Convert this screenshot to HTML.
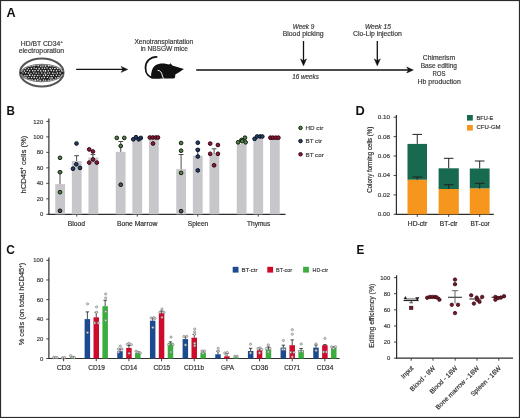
<!DOCTYPE html>
<html><head><meta charset="utf-8"><style>html,body{margin:0;padding:0;background:#fff;}body{width:520px;height:418px;overflow:hidden;font-family:"Liberation Sans", sans-serif;}</style></head><body>
<svg width="520" height="418" viewBox="0 0 520 418" style="display:block;will-change:transform;font-family:'Liberation Sans', sans-serif">
<rect x="0" y="0" width="520" height="418" fill="#fff"/>
<text x="6.4" y="16.5" font-size="12" text-anchor="start" fill="#111" font-weight="bold" textLength="9.2" lengthAdjust="spacingAndGlyphs" >A</text>
<text x="6.5" y="114.7" font-size="12" text-anchor="start" fill="#111" font-weight="bold" textLength="8.4" lengthAdjust="spacingAndGlyphs" >B</text>
<text x="6.3" y="253.6" font-size="12" text-anchor="start" fill="#111" font-weight="bold" textLength="8.6" lengthAdjust="spacingAndGlyphs" >C</text>
<text x="355.5" y="114.7" font-size="12" text-anchor="start" fill="#111" font-weight="bold" textLength="9.3" lengthAdjust="spacingAndGlyphs" >D</text>
<text x="356.4" y="253.8" font-size="12" text-anchor="start" fill="#111" font-weight="bold" textLength="7.8" lengthAdjust="spacingAndGlyphs" >E</text>
<text x="40.55" y="45.8" font-size="6.4" text-anchor="middle" fill="#3a3a3a" stroke="#3a3a3a" stroke-width="0.18" textLength="39.4" lengthAdjust="spacingAndGlyphs" >HD/BT CD34</text>
<text x="60.6" y="42.9" font-size="4" text-anchor="start" fill="#3a3a3a" stroke="#3a3a3a" stroke-width="0.18" >+</text>
<text x="41.45" y="53.2" font-size="6.4" text-anchor="middle" fill="#3a3a3a" stroke="#3a3a3a" stroke-width="0.18" textLength="45.4" lengthAdjust="spacingAndGlyphs" >electroporation</text>
<defs><clipPath id="dishclip"><path d="M20.6,73 C24.0,61.6 60.0,61.6 63.2,73 C60.0,84.4 24.0,84.4 20.6,73 Z"/></clipPath></defs>
<ellipse cx="41.8" cy="72.5" rx="21.7" ry="14.0" fill="none" stroke="#555" stroke-width="2.1"/>
<path d="M20.6,73 C24.0,61.6 60.0,61.6 63.2,73 C60.0,84.4 24.0,84.4 20.6,73 Z" fill="#222" stroke="#7a7a7a" stroke-width="1.5"/>
<g clip-path="url(#dishclip)" fill="#ececec"><circle cx="20.70" cy="63.77" r="0.80"/><circle cx="23.60" cy="63.77" r="0.83"/><circle cx="25.52" cy="63.58" r="0.84"/><circle cx="28.67" cy="63.88" r="0.65"/><circle cx="31.18" cy="63.42" r="0.75"/><circle cx="33.91" cy="63.26" r="0.67"/><circle cx="36.32" cy="63.89" r="0.80"/><circle cx="38.88" cy="63.81" r="0.65"/><circle cx="41.89" cy="63.34" r="0.62"/><circle cx="44.75" cy="63.40" r="0.67"/><circle cx="47.49" cy="63.86" r="0.69"/><circle cx="50.12" cy="63.63" r="0.78"/><circle cx="52.16" cy="63.91" r="0.78"/><circle cx="55.42" cy="63.88" r="0.69"/><circle cx="57.59" cy="63.37" r="0.65"/><circle cx="60.00" cy="63.46" r="0.76"/><circle cx="62.60" cy="63.72" r="0.70"/><circle cx="21.75" cy="66.17" r="0.73"/><circle cx="24.40" cy="65.94" r="0.78"/><circle cx="26.85" cy="66.28" r="0.63"/><circle cx="30.05" cy="66.19" r="0.62"/><circle cx="32.73" cy="65.86" r="0.75"/><circle cx="34.76" cy="65.63" r="0.66"/><circle cx="38.16" cy="65.74" r="0.79"/><circle cx="40.79" cy="66.26" r="0.70"/><circle cx="42.98" cy="65.97" r="0.80"/><circle cx="45.44" cy="66.12" r="0.80"/><circle cx="48.69" cy="65.63" r="0.84"/><circle cx="50.72" cy="65.84" r="0.76"/><circle cx="54.03" cy="65.84" r="0.83"/><circle cx="56.39" cy="65.82" r="0.69"/><circle cx="58.74" cy="65.65" r="0.65"/><circle cx="61.80" cy="66.30" r="0.66"/><circle cx="63.94" cy="66.29" r="0.74"/><circle cx="20.52" cy="68.12" r="0.76"/><circle cx="23.51" cy="68.27" r="0.72"/><circle cx="25.54" cy="68.59" r="0.63"/><circle cx="28.54" cy="68.54" r="0.65"/><circle cx="31.39" cy="68.61" r="0.76"/><circle cx="34.08" cy="68.02" r="0.72"/><circle cx="36.22" cy="68.54" r="0.69"/><circle cx="39.11" cy="68.65" r="0.82"/><circle cx="42.18" cy="68.27" r="0.73"/><circle cx="44.63" cy="68.29" r="0.69"/><circle cx="47.02" cy="68.05" r="0.71"/><circle cx="50.14" cy="68.62" r="0.76"/><circle cx="52.40" cy="68.19" r="0.64"/><circle cx="54.87" cy="68.50" r="0.82"/><circle cx="57.59" cy="68.50" r="0.80"/><circle cx="60.51" cy="68.41" r="0.79"/><circle cx="62.89" cy="68.44" r="0.68"/><circle cx="21.89" cy="70.84" r="0.78"/><circle cx="24.39" cy="70.96" r="0.77"/><circle cx="27.26" cy="70.31" r="0.75"/><circle cx="29.65" cy="70.77" r="0.73"/><circle cx="32.75" cy="70.75" r="0.80"/><circle cx="35.03" cy="70.75" r="0.79"/><circle cx="38.06" cy="70.55" r="0.81"/><circle cx="40.75" cy="70.78" r="0.84"/><circle cx="43.47" cy="70.66" r="0.74"/><circle cx="45.48" cy="70.89" r="0.84"/><circle cx="48.38" cy="70.78" r="0.79"/><circle cx="51.23" cy="70.42" r="0.80"/><circle cx="53.76" cy="70.77" r="0.72"/><circle cx="56.45" cy="70.84" r="0.77"/><circle cx="59.18" cy="70.32" r="0.66"/><circle cx="61.60" cy="70.76" r="0.67"/><circle cx="64.45" cy="70.74" r="0.63"/><circle cx="20.58" cy="72.81" r="0.63"/><circle cx="22.96" cy="72.87" r="0.66"/><circle cx="25.65" cy="72.67" r="0.73"/><circle cx="28.45" cy="73.08" r="0.76"/><circle cx="30.99" cy="73.28" r="0.62"/><circle cx="33.77" cy="72.84" r="0.71"/><circle cx="36.19" cy="73.23" r="0.71"/><circle cx="38.78" cy="73.08" r="0.64"/><circle cx="41.84" cy="72.89" r="0.75"/><circle cx="44.82" cy="73.22" r="0.72"/><circle cx="47.35" cy="73.10" r="0.70"/><circle cx="49.46" cy="73.07" r="0.75"/><circle cx="52.77" cy="73.33" r="0.76"/><circle cx="54.93" cy="73.28" r="0.62"/><circle cx="57.39" cy="73.05" r="0.76"/><circle cx="60.06" cy="73.09" r="0.82"/><circle cx="62.90" cy="72.95" r="0.67"/><circle cx="21.73" cy="75.68" r="0.71"/><circle cx="24.92" cy="75.64" r="0.76"/><circle cx="27.01" cy="75.69" r="0.73"/><circle cx="29.78" cy="75.22" r="0.85"/><circle cx="32.49" cy="75.20" r="0.73"/><circle cx="34.85" cy="75.44" r="0.72"/><circle cx="37.63" cy="75.55" r="0.81"/><circle cx="40.06" cy="75.37" r="0.68"/><circle cx="43.45" cy="75.55" r="0.68"/><circle cx="45.56" cy="75.11" r="0.85"/><circle cx="48.23" cy="75.43" r="0.73"/><circle cx="51.17" cy="75.42" r="0.79"/><circle cx="53.39" cy="75.53" r="0.69"/><circle cx="56.38" cy="75.24" r="0.69"/><circle cx="59.02" cy="75.33" r="0.70"/><circle cx="61.85" cy="75.41" r="0.63"/><circle cx="64.10" cy="75.32" r="0.83"/><circle cx="20.91" cy="77.73" r="0.62"/><circle cx="23.47" cy="77.65" r="0.75"/><circle cx="26.07" cy="77.79" r="0.73"/><circle cx="28.88" cy="77.62" r="0.71"/><circle cx="31.48" cy="77.49" r="0.69"/><circle cx="34.11" cy="77.40" r="0.81"/><circle cx="36.66" cy="77.65" r="0.69"/><circle cx="39.37" cy="77.99" r="0.65"/><circle cx="41.78" cy="77.73" r="0.73"/><circle cx="44.31" cy="77.46" r="0.75"/><circle cx="47.35" cy="77.40" r="0.67"/><circle cx="50.01" cy="77.90" r="0.77"/><circle cx="52.02" cy="77.86" r="0.85"/><circle cx="55.45" cy="77.84" r="0.63"/><circle cx="57.97" cy="77.50" r="0.77"/><circle cx="60.71" cy="77.85" r="0.65"/><circle cx="62.83" cy="77.99" r="0.65"/><circle cx="21.99" cy="79.99" r="0.66"/><circle cx="24.65" cy="79.73" r="0.64"/><circle cx="27.10" cy="79.75" r="0.63"/><circle cx="29.91" cy="80.22" r="0.82"/><circle cx="32.21" cy="80.00" r="0.69"/><circle cx="35.23" cy="80.04" r="0.84"/><circle cx="37.70" cy="79.74" r="0.78"/><circle cx="40.17" cy="80.14" r="0.74"/><circle cx="43.43" cy="80.09" r="0.76"/><circle cx="45.56" cy="80.09" r="0.68"/><circle cx="48.60" cy="80.06" r="0.65"/><circle cx="50.84" cy="79.96" r="0.79"/><circle cx="53.44" cy="80.20" r="0.77"/><circle cx="56.02" cy="80.17" r="0.64"/><circle cx="58.70" cy="80.12" r="0.67"/><circle cx="61.95" cy="80.04" r="0.69"/><circle cx="64.54" cy="79.72" r="0.79"/><circle cx="20.24" cy="82.16" r="0.84"/><circle cx="23.39" cy="82.21" r="0.65"/><circle cx="26.28" cy="82.52" r="0.81"/><circle cx="28.26" cy="82.49" r="0.70"/><circle cx="30.99" cy="82.28" r="0.76"/><circle cx="33.73" cy="82.32" r="0.65"/><circle cx="36.76" cy="82.50" r="0.81"/><circle cx="39.10" cy="82.65" r="0.74"/><circle cx="41.87" cy="82.45" r="0.79"/><circle cx="44.37" cy="82.12" r="0.63"/><circle cx="46.86" cy="82.08" r="0.82"/><circle cx="49.73" cy="82.58" r="0.62"/><circle cx="52.38" cy="82.67" r="0.76"/><circle cx="54.99" cy="82.38" r="0.64"/><circle cx="57.42" cy="82.16" r="0.71"/><circle cx="60.26" cy="82.67" r="0.65"/><circle cx="62.80" cy="82.24" r="0.66"/></g>
<circle cx="20.9" cy="73" r="1.0" fill="#111"/><circle cx="62.9" cy="73" r="1.0" fill="#111"/>
<line x1="76.2" y1="69.4" x2="124.7" y2="69.4" stroke="#111" stroke-width="1.3"/>
<path d="M127.7,69.4 L121.10000000000001,66.45 L123.00000000000001,69.4 L121.10000000000001,72.35000000000001 Z" fill="#111" stroke="#111" stroke-width="0.5" stroke-linejoin="round"/>
<line x1="196.2" y1="70.0" x2="410.3" y2="70.0" stroke="#111" stroke-width="1.55"/>
<path d="M413.3,70.0 L406.7,67.05 L408.59999999999997,70.0 L406.7,72.95 Z" fill="#111" stroke="#111" stroke-width="0.5" stroke-linejoin="round"/>
<line x1="303.5" y1="41.0" x2="303.5" y2="62.8" stroke="#111" stroke-width="1.3"/>
<path d="M303.5,65.8 L300.5,58.9 L303.5,60.8 L306.5,58.9 Z" fill="#111" stroke="#111" stroke-width="0.5" stroke-linejoin="round"/>
<line x1="377.3" y1="40.9" x2="377.3" y2="62.8" stroke="#111" stroke-width="1.3"/>
<path d="M377.3,65.8 L374.3,58.9 L377.3,60.8 L380.3,58.9 Z" fill="#111" stroke="#111" stroke-width="0.5" stroke-linejoin="round"/>
<text x="163.85" y="43.8" font-size="6.4" text-anchor="middle" fill="#3a3a3a" stroke="#3a3a3a" stroke-width="0.18" textLength="58.8" lengthAdjust="spacingAndGlyphs" >Xenotransplantation</text>
<text x="164.25" y="51.2" font-size="6.4" text-anchor="middle" fill="#3a3a3a" stroke="#3a3a3a" stroke-width="0.18" textLength="47.2" lengthAdjust="spacingAndGlyphs" >in NBSGW mice</text>
<path d="M156.6,56.9 C150.3,56.9 145.5,61.5 145.5,67.8 C145.5,73.5 148.6,77.4 153.5,77.6 L160,77.6" fill="none" stroke="#111" stroke-width="1.75" stroke-linecap="round"/>
<path d="M151.3,78.4 C150.8,74 151.5,68 155.5,65.3 C158.5,63.3 163,63.2 166.5,64.0 L169.3,64.5 L170.5,63.2 L172.3,65.4 C176,66.5 180,67.6 183.9,68.9 C181,70.9 178,72.8 175.3,74.6 L175.1,77.3 C174.9,78.0 174.3,78.4 173.5,78.4 Z" fill="#111"/>
<path d="M157.6,70.3 C160.3,70.5 161.7,72.4 162.1,74.8 C162.4,76.3 162.9,77.6 163.8,78.6" fill="none" stroke="#fff" stroke-width="1.0"/>
<text x="303.55" y="28.5" font-size="6.4" text-anchor="middle" fill="#3a3a3a" stroke="#3a3a3a" stroke-width="0.18" font-style="italic" textLength="21.6" lengthAdjust="spacingAndGlyphs" >Week 9</text>
<text x="303.1" y="36.2" font-size="6.4" text-anchor="middle" fill="#3a3a3a" stroke="#3a3a3a" stroke-width="0.18" textLength="40.9" lengthAdjust="spacingAndGlyphs" >Blood picking</text>
<text x="377.9" y="28.5" font-size="6.4" text-anchor="middle" fill="#3a3a3a" stroke="#3a3a3a" stroke-width="0.18" font-style="italic" textLength="25.9" lengthAdjust="spacingAndGlyphs" >Week 15</text>
<text x="377.4" y="36.4" font-size="6.4" text-anchor="middle" fill="#3a3a3a" stroke="#3a3a3a" stroke-width="0.18" textLength="48.7" lengthAdjust="spacingAndGlyphs" >Clo-Lip injection</text>
<text x="305.55" y="78.7" font-size="6.4" text-anchor="middle" fill="#3a3a3a" stroke="#3a3a3a" stroke-width="0.18" font-style="italic" textLength="26.8" lengthAdjust="spacingAndGlyphs" >16 weeks</text>
<text x="439.0" y="60.2" font-size="6.4" text-anchor="middle" fill="#3a3a3a" stroke="#3a3a3a" stroke-width="0.18" textLength="32.3" lengthAdjust="spacingAndGlyphs" >Chimerism</text>
<text x="438.85" y="68.2" font-size="6.4" text-anchor="middle" fill="#3a3a3a" stroke="#3a3a3a" stroke-width="0.18" textLength="36.4" lengthAdjust="spacingAndGlyphs" >Base editing</text>
<text x="439.0" y="76.2" font-size="6.4" text-anchor="middle" fill="#3a3a3a" stroke="#3a3a3a" stroke-width="0.18" textLength="13.0" lengthAdjust="spacingAndGlyphs" >ROS</text>
<text x="439.2" y="84.2" font-size="6.4" text-anchor="middle" fill="#3a3a3a" stroke="#3a3a3a" stroke-width="0.18" textLength="43.3" lengthAdjust="spacingAndGlyphs" >Hb production</text>
<line x1="48.9" y1="118.4" x2="48.9" y2="214.9" stroke="#2e2e2e" stroke-width="1.2"/>
<line x1="48.3" y1="214.3" x2="285.5" y2="214.3" stroke="#2e2e2e" stroke-width="1.2"/>
<line x1="46.3" y1="214.30" x2="48.9" y2="214.30" stroke="#2e2e2e" stroke-width="0.9"/>
<text x="43.2" y="216.4" font-size="5.9" text-anchor="end" fill="#3c3c3c" stroke="#3c3c3c" stroke-width="0.18" >0</text>
<line x1="46.3" y1="198.82" x2="48.9" y2="198.82" stroke="#2e2e2e" stroke-width="0.9"/>
<text x="43.2" y="200.91666666666666" font-size="5.9" text-anchor="end" fill="#3c3c3c" stroke="#3c3c3c" stroke-width="0.18" >20</text>
<line x1="46.3" y1="183.33" x2="48.9" y2="183.33" stroke="#2e2e2e" stroke-width="0.9"/>
<text x="43.2" y="185.43333333333334" font-size="5.9" text-anchor="end" fill="#3c3c3c" stroke="#3c3c3c" stroke-width="0.18" >40</text>
<line x1="46.3" y1="167.85" x2="48.9" y2="167.85" stroke="#2e2e2e" stroke-width="0.9"/>
<text x="43.2" y="169.95000000000002" font-size="5.9" text-anchor="end" fill="#3c3c3c" stroke="#3c3c3c" stroke-width="0.18" >60</text>
<line x1="46.3" y1="152.37" x2="48.9" y2="152.37" stroke="#2e2e2e" stroke-width="0.9"/>
<text x="43.2" y="154.46666666666667" font-size="5.9" text-anchor="end" fill="#3c3c3c" stroke="#3c3c3c" stroke-width="0.18" >80</text>
<line x1="46.3" y1="136.88" x2="48.9" y2="136.88" stroke="#2e2e2e" stroke-width="0.9"/>
<text x="43.2" y="138.98333333333332" font-size="5.9" text-anchor="end" fill="#3c3c3c" stroke="#3c3c3c" stroke-width="0.18" >100</text>
<line x1="46.3" y1="121.40" x2="48.9" y2="121.40" stroke="#2e2e2e" stroke-width="0.9"/>
<text x="43.2" y="123.5" font-size="5.9" text-anchor="end" fill="#3c3c3c" stroke="#3c3c3c" stroke-width="0.18" >120</text>
<text x="25.9" y="164.6" font-size="8.1" text-anchor="middle" fill="#2e2e2e" stroke="#2e2e2e" stroke-width="0.18" transform="rotate(-90 25.9 164.6)" textLength="58" lengthAdjust="spacingAndGlyphs">hCD45<tspan font-size="4.5" dy="-2.6">+</tspan><tspan dy="2.6"> cells (%)</tspan></text>
<line x1="76.75" y1="214.3" x2="76.75" y2="216.60000000000002" stroke="#2e2e2e" stroke-width="0.9"/>
<text x="76.35" y="226.2" font-size="6.6" text-anchor="middle" fill="#2e2e2e" stroke="#2e2e2e" stroke-width="0.18" textLength="17.4" lengthAdjust="spacingAndGlyphs" >Blood</text>
<line x1="137.25" y1="214.3" x2="137.25" y2="216.60000000000002" stroke="#2e2e2e" stroke-width="0.9"/>
<text x="137.15" y="226.2" font-size="6.6" text-anchor="middle" fill="#2e2e2e" stroke="#2e2e2e" stroke-width="0.18" textLength="40.4" lengthAdjust="spacingAndGlyphs" >Bone Marrow</text>
<line x1="197.75" y1="214.3" x2="197.75" y2="216.60000000000002" stroke="#2e2e2e" stroke-width="0.9"/>
<text x="198.0" y="226.2" font-size="6.6" text-anchor="middle" fill="#2e2e2e" stroke="#2e2e2e" stroke-width="0.18" textLength="20.3" lengthAdjust="spacingAndGlyphs" >Spleen</text>
<line x1="258.25" y1="214.3" x2="258.25" y2="216.60000000000002" stroke="#2e2e2e" stroke-width="0.9"/>
<text x="258.65" y="226.2" font-size="6.6" text-anchor="middle" fill="#2e2e2e" stroke="#2e2e2e" stroke-width="0.18" textLength="23.2" lengthAdjust="spacingAndGlyphs" >Thymus</text>
<rect x="55.25" y="184.1" width="9.8" height="30.20" fill="#c7c7cb"/>
<rect x="71.85" y="161.0" width="9.8" height="53.30" fill="#c7c7cb"/>
<rect x="88.45" y="157.5" width="9.8" height="56.80" fill="#c7c7cb"/>
<rect x="115.75" y="151.9" width="9.8" height="62.40" fill="#c7c7cb"/>
<rect x="132.35" y="139.0" width="9.8" height="75.30" fill="#c7c7cb"/>
<rect x="148.95" y="139.0" width="9.8" height="75.30" fill="#c7c7cb"/>
<rect x="176.25" y="169.1" width="9.8" height="45.20" fill="#c7c7cb"/>
<rect x="192.85" y="155.7" width="9.8" height="58.60" fill="#c7c7cb"/>
<rect x="209.45" y="154.3" width="9.8" height="60.00" fill="#c7c7cb"/>
<rect x="236.75" y="144.0" width="9.8" height="70.30" fill="#c7c7cb"/>
<rect x="253.35" y="138.8" width="9.8" height="75.50" fill="#c7c7cb"/>
<rect x="269.95" y="138.5" width="9.8" height="75.80" fill="#c7c7cb"/>
<line x1="60" y1="184.1" x2="60" y2="172.2" stroke="#3a3a3a" stroke-width="0.9"/>
<line x1="57.6" y1="172.2" x2="62.4" y2="172.2" stroke="#3a3a3a" stroke-width="0.9"/>
<line x1="76.6" y1="161.0" x2="76.6" y2="155.7" stroke="#3a3a3a" stroke-width="0.9"/>
<line x1="74.19999999999999" y1="155.7" x2="79.0" y2="155.7" stroke="#3a3a3a" stroke-width="0.9"/>
<line x1="92.9" y1="157.5" x2="92.9" y2="154.6" stroke="#3a3a3a" stroke-width="0.9"/>
<line x1="90.5" y1="154.6" x2="95.30000000000001" y2="154.6" stroke="#3a3a3a" stroke-width="0.9"/>
<line x1="120.75" y1="151.9" x2="120.75" y2="141.5" stroke="#3a3a3a" stroke-width="0.9"/>
<line x1="118.35" y1="141.5" x2="123.15" y2="141.5" stroke="#3a3a3a" stroke-width="0.9"/>
<line x1="181.1" y1="169.1" x2="181.1" y2="154.5" stroke="#3a3a3a" stroke-width="0.9"/>
<line x1="178.7" y1="154.5" x2="183.5" y2="154.5" stroke="#3a3a3a" stroke-width="0.9"/>
<line x1="197.8" y1="155.7" x2="197.8" y2="149.2" stroke="#3a3a3a" stroke-width="0.9"/>
<line x1="195.4" y1="149.2" x2="200.20000000000002" y2="149.2" stroke="#3a3a3a" stroke-width="0.9"/>
<line x1="214.1" y1="154.3" x2="214.1" y2="148.8" stroke="#3a3a3a" stroke-width="0.9"/>
<line x1="211.7" y1="148.8" x2="216.5" y2="148.8" stroke="#3a3a3a" stroke-width="0.9"/>
<circle cx="60" cy="157.8" r="1.85" fill="#55804a" stroke="#10200c" stroke-width="1.0"/>
<circle cx="60" cy="172.2" r="1.85" fill="#55804a" stroke="#10200c" stroke-width="1.0"/>
<circle cx="60" cy="192.2" r="1.85" fill="#55804a" stroke="#10200c" stroke-width="1.0"/>
<circle cx="116.8" cy="137.9" r="1.85" fill="#55804a" stroke="#10200c" stroke-width="1.0"/>
<circle cx="124.3" cy="137.9" r="1.85" fill="#55804a" stroke="#10200c" stroke-width="1.0"/>
<circle cx="120.75" cy="146" r="1.85" fill="#55804a" stroke="#10200c" stroke-width="1.0"/>
<circle cx="181.1" cy="143" r="1.85" fill="#55804a" stroke="#10200c" stroke-width="1.0"/>
<circle cx="181.1" cy="150.7" r="1.85" fill="#55804a" stroke="#10200c" stroke-width="1.0"/>
<circle cx="181.1" cy="172.9" r="1.85" fill="#55804a" stroke="#10200c" stroke-width="1.0"/>
<circle cx="238.1" cy="142.3" r="1.85" fill="#55804a" stroke="#10200c" stroke-width="1.0"/>
<circle cx="241.5" cy="140" r="1.85" fill="#55804a" stroke="#10200c" stroke-width="1.0"/>
<circle cx="245" cy="137.7" r="1.85" fill="#55804a" stroke="#10200c" stroke-width="1.0"/>
<circle cx="245.6" cy="142.3" r="1.85" fill="#55804a" stroke="#10200c" stroke-width="1.0"/>
<circle cx="242.2" cy="141.2" r="1.85" fill="#55804a" stroke="#10200c" stroke-width="1.0"/>
<circle cx="60" cy="210.8" r="1.85" fill="#555" stroke="#0c0c0c" stroke-width="1.0"/>
<circle cx="120.75" cy="184.7" r="1.85" fill="#555" stroke="#0c0c0c" stroke-width="1.0"/>
<circle cx="181.1" cy="211.2" r="1.85" fill="#555" stroke="#0c0c0c" stroke-width="1.0"/>
<circle cx="76.5" cy="143.5" r="1.85" fill="#26406a" stroke="#08101c" stroke-width="1.0"/>
<circle cx="76.3" cy="164.3" r="1.85" fill="#26406a" stroke="#08101c" stroke-width="1.0"/>
<circle cx="73" cy="168.7" r="1.85" fill="#26406a" stroke="#08101c" stroke-width="1.0"/>
<circle cx="80" cy="167.9" r="1.85" fill="#26406a" stroke="#08101c" stroke-width="1.0"/>
<circle cx="133.3" cy="139.3" r="1.85" fill="#26406a" stroke="#08101c" stroke-width="1.0"/>
<circle cx="136" cy="137.2" r="1.85" fill="#26406a" stroke="#08101c" stroke-width="1.0"/>
<circle cx="138.7" cy="139.3" r="1.85" fill="#26406a" stroke="#08101c" stroke-width="1.0"/>
<circle cx="140.8" cy="137.9" r="1.85" fill="#26406a" stroke="#08101c" stroke-width="1.0"/>
<circle cx="197.8" cy="142.7" r="1.85" fill="#26406a" stroke="#08101c" stroke-width="1.0"/>
<circle cx="197.8" cy="149.9" r="1.85" fill="#26406a" stroke="#08101c" stroke-width="1.0"/>
<circle cx="197.8" cy="156.5" r="1.85" fill="#26406a" stroke="#08101c" stroke-width="1.0"/>
<circle cx="197.8" cy="170.4" r="1.85" fill="#26406a" stroke="#08101c" stroke-width="1.0"/>
<circle cx="254.6" cy="138.8" r="1.85" fill="#26406a" stroke="#08101c" stroke-width="1.0"/>
<circle cx="257.1" cy="136.5" r="1.85" fill="#26406a" stroke="#08101c" stroke-width="1.0"/>
<circle cx="260" cy="136.5" r="1.85" fill="#26406a" stroke="#08101c" stroke-width="1.0"/>
<circle cx="262.3" cy="136.5" r="1.85" fill="#26406a" stroke="#08101c" stroke-width="1.0"/>
<circle cx="89.2" cy="149.4" r="1.85" fill="#8a1a38" stroke="#30040f" stroke-width="1.0"/>
<circle cx="92.9" cy="151.5" r="1.85" fill="#8a1a38" stroke="#30040f" stroke-width="1.0"/>
<circle cx="93" cy="159.5" r="1.85" fill="#8a1a38" stroke="#30040f" stroke-width="1.0"/>
<circle cx="89.2" cy="162.6" r="1.85" fill="#8a1a38" stroke="#30040f" stroke-width="1.0"/>
<circle cx="96.8" cy="162.6" r="1.85" fill="#8a1a38" stroke="#30040f" stroke-width="1.0"/>
<circle cx="149.8" cy="137.5" r="1.85" fill="#8a1a38" stroke="#30040f" stroke-width="1.0"/>
<circle cx="152.7" cy="137.5" r="1.85" fill="#8a1a38" stroke="#30040f" stroke-width="1.0"/>
<circle cx="155.7" cy="137.5" r="1.85" fill="#8a1a38" stroke="#30040f" stroke-width="1.0"/>
<circle cx="158" cy="137.5" r="1.85" fill="#8a1a38" stroke="#30040f" stroke-width="1.0"/>
<circle cx="153" cy="143.5" r="1.85" fill="#8a1a38" stroke="#30040f" stroke-width="1.0"/>
<circle cx="210.2" cy="143.6" r="1.85" fill="#8a1a38" stroke="#30040f" stroke-width="1.0"/>
<circle cx="217.9" cy="145" r="1.85" fill="#8a1a38" stroke="#30040f" stroke-width="1.0"/>
<circle cx="210.2" cy="153.8" r="1.85" fill="#8a1a38" stroke="#30040f" stroke-width="1.0"/>
<circle cx="217.9" cy="153.8" r="1.85" fill="#8a1a38" stroke="#30040f" stroke-width="1.0"/>
<circle cx="214.1" cy="165.3" r="1.85" fill="#8a1a38" stroke="#30040f" stroke-width="1.0"/>
<circle cx="270.4" cy="137.7" r="1.85" fill="#8a1a38" stroke="#30040f" stroke-width="1.0"/>
<circle cx="272.7" cy="137.7" r="1.85" fill="#8a1a38" stroke="#30040f" stroke-width="1.0"/>
<circle cx="275.6" cy="137.7" r="1.85" fill="#8a1a38" stroke="#30040f" stroke-width="1.0"/>
<circle cx="278.4" cy="137.7" r="1.85" fill="#8a1a38" stroke="#30040f" stroke-width="1.0"/>
<circle cx="300.5" cy="127.9" r="1.75" fill="#55804a" stroke="#10200c" stroke-width="1.0"/>
<text x="305.5" y="130.1" font-size="5.9" text-anchor="start" fill="#3e3e3e" stroke="#3e3e3e" stroke-width="0.18" textLength="17.9" lengthAdjust="spacingAndGlyphs" >HD ctr</text>
<circle cx="300.5" cy="141.1" r="1.75" fill="#26406a" stroke="#08101c" stroke-width="1.0"/>
<text x="305.5" y="143.29999999999998" font-size="5.9" text-anchor="start" fill="#3e3e3e" stroke="#3e3e3e" stroke-width="0.18" textLength="16.5" lengthAdjust="spacingAndGlyphs" >BT ctr</text>
<circle cx="300.5" cy="154.3" r="1.75" fill="#8a1a38" stroke="#30040f" stroke-width="1.0"/>
<text x="305.5" y="156.5" font-size="5.9" text-anchor="start" fill="#3e3e3e" stroke="#3e3e3e" stroke-width="0.18" textLength="18.3" lengthAdjust="spacingAndGlyphs" >BT cor</text>
<line x1="396.4" y1="115" x2="396.4" y2="214.9" stroke="#2e2e2e" stroke-width="1.2"/>
<line x1="395.79999999999995" y1="214.3" x2="493.8" y2="214.3" stroke="#2e2e2e" stroke-width="1.2"/>
<line x1="393.6" y1="214.30" x2="396.4" y2="214.30" stroke="#2e2e2e" stroke-width="0.9"/>
<text x="390.0" y="216.3" font-size="5.8" text-anchor="end" fill="#3c3c3c" stroke="#3c3c3c" stroke-width="0.18" textLength="12.3" lengthAdjust="spacingAndGlyphs" >0.00</text>
<line x1="393.6" y1="194.88" x2="396.4" y2="194.88" stroke="#2e2e2e" stroke-width="0.9"/>
<text x="390.0" y="196.88" font-size="5.8" text-anchor="end" fill="#3c3c3c" stroke="#3c3c3c" stroke-width="0.18" textLength="12.3" lengthAdjust="spacingAndGlyphs" >0.02</text>
<line x1="393.6" y1="175.46" x2="396.4" y2="175.46" stroke="#2e2e2e" stroke-width="0.9"/>
<text x="390.0" y="177.46" font-size="5.8" text-anchor="end" fill="#3c3c3c" stroke="#3c3c3c" stroke-width="0.18" textLength="12.3" lengthAdjust="spacingAndGlyphs" >0.04</text>
<line x1="393.6" y1="156.04" x2="396.4" y2="156.04" stroke="#2e2e2e" stroke-width="0.9"/>
<text x="390.0" y="158.04000000000002" font-size="5.8" text-anchor="end" fill="#3c3c3c" stroke="#3c3c3c" stroke-width="0.18" textLength="12.3" lengthAdjust="spacingAndGlyphs" >0.06</text>
<line x1="393.6" y1="136.62" x2="396.4" y2="136.62" stroke="#2e2e2e" stroke-width="0.9"/>
<text x="390.0" y="138.62" font-size="5.8" text-anchor="end" fill="#3c3c3c" stroke="#3c3c3c" stroke-width="0.18" textLength="12.3" lengthAdjust="spacingAndGlyphs" >0.08</text>
<line x1="393.6" y1="117.20" x2="396.4" y2="117.20" stroke="#2e2e2e" stroke-width="0.9"/>
<text x="390.0" y="119.2" font-size="5.8" text-anchor="end" fill="#3c3c3c" stroke="#3c3c3c" stroke-width="0.18" textLength="12.3" lengthAdjust="spacingAndGlyphs" >0.10</text>
<text x="372.3" y="159.7" font-size="7.2" text-anchor="middle" fill="#2e2e2e" stroke="#2e2e2e" stroke-width="0.18" transform="rotate(-90 372.3 159.7)" textLength="66" lengthAdjust="spacingAndGlyphs">Colony forming cells (%)</text>
<rect x="407.5" y="143.9" width="19.50" height="35.90" fill="#17694f"/>
<rect x="407.5" y="179.8" width="19.50" height="34.50" fill="#f7961d"/>
<line x1="417.25" y1="143.9" x2="417.25" y2="134.4" stroke="#222" stroke-width="1"/>
<line x1="412.45" y1="134.4" x2="422.05" y2="134.4" stroke="#222" stroke-width="1"/>
<line x1="417.25" y1="179.8" x2="417.25" y2="177.0" stroke="#222" stroke-width="1"/>
<line x1="412.45" y1="177.0" x2="422.05" y2="177.0" stroke="#222" stroke-width="1"/>
<line x1="417.25" y1="214.3" x2="417.25" y2="216.9" stroke="#2e2e2e" stroke-width="0.9"/>
<text x="417.5" y="226.3" font-size="6.3" text-anchor="middle" fill="#2e2e2e" stroke="#2e2e2e" stroke-width="0.18" textLength="19.3" lengthAdjust="spacingAndGlyphs" >HD-ctr</text>
<rect x="438.6" y="168.3" width="20.20" height="20.70" fill="#17694f"/>
<rect x="438.6" y="189.0" width="20.20" height="25.30" fill="#f7961d"/>
<line x1="448.70000000000005" y1="168.3" x2="448.70000000000005" y2="158.3" stroke="#222" stroke-width="1"/>
<line x1="443.90000000000003" y1="158.3" x2="453.50000000000006" y2="158.3" stroke="#222" stroke-width="1"/>
<line x1="448.70000000000005" y1="189.0" x2="448.70000000000005" y2="184.7" stroke="#222" stroke-width="1"/>
<line x1="443.90000000000003" y1="184.7" x2="453.50000000000006" y2="184.7" stroke="#222" stroke-width="1"/>
<line x1="448.70000000000005" y1="214.3" x2="448.70000000000005" y2="216.9" stroke="#2e2e2e" stroke-width="0.9"/>
<text x="448.65" y="226.3" font-size="6.3" text-anchor="middle" fill="#2e2e2e" stroke="#2e2e2e" stroke-width="0.18" textLength="17.8" lengthAdjust="spacingAndGlyphs" >BT-ctr</text>
<rect x="469.8" y="168.5" width="19.80" height="20.10" fill="#17694f"/>
<rect x="469.8" y="188.6" width="19.80" height="25.70" fill="#f7961d"/>
<line x1="479.70000000000005" y1="168.5" x2="479.70000000000005" y2="161.0" stroke="#222" stroke-width="1"/>
<line x1="474.90000000000003" y1="161.0" x2="484.50000000000006" y2="161.0" stroke="#222" stroke-width="1"/>
<line x1="479.70000000000005" y1="188.6" x2="479.70000000000005" y2="183.3" stroke="#222" stroke-width="1"/>
<line x1="474.90000000000003" y1="183.3" x2="484.50000000000006" y2="183.3" stroke="#222" stroke-width="1"/>
<line x1="479.70000000000005" y1="214.3" x2="479.70000000000005" y2="216.9" stroke="#2e2e2e" stroke-width="0.9"/>
<text x="480.1" y="226.3" font-size="6.3" text-anchor="middle" fill="#2e2e2e" stroke="#2e2e2e" stroke-width="0.18" textLength="19.1" lengthAdjust="spacingAndGlyphs" >BT-cor</text>
<rect x="467.0" y="115.0" width="5.8" height="5.6" fill="#17694f"/>
<rect x="467.0" y="125.0" width="5.8" height="5.6" fill="#f7961d"/>
<text x="476.5" y="120.2" font-size="6.0" text-anchor="start" fill="#333" stroke="#333" stroke-width="0.18" textLength="16.8" lengthAdjust="spacingAndGlyphs" >BFU-E</text>
<text x="476.5" y="129.4" font-size="6.0" text-anchor="start" fill="#333" stroke="#333" stroke-width="0.18" textLength="24.1" lengthAdjust="spacingAndGlyphs" >CFU-GM</text>
<line x1="48.9" y1="257.4" x2="48.9" y2="359.1" stroke="#2e2e2e" stroke-width="1.2"/>
<line x1="48.3" y1="358.5" x2="339.6" y2="358.5" stroke="#2e2e2e" stroke-width="1.2"/>
<line x1="46.3" y1="358.50" x2="48.9" y2="358.50" stroke="#2e2e2e" stroke-width="0.9"/>
<text x="43.2" y="360.6" font-size="5.9" text-anchor="end" fill="#3c3c3c" stroke="#3c3c3c" stroke-width="0.18" >0</text>
<line x1="46.3" y1="338.86" x2="48.9" y2="338.86" stroke="#2e2e2e" stroke-width="0.9"/>
<text x="43.2" y="340.96000000000004" font-size="5.9" text-anchor="end" fill="#3c3c3c" stroke="#3c3c3c" stroke-width="0.18" >20</text>
<line x1="46.3" y1="319.22" x2="48.9" y2="319.22" stroke="#2e2e2e" stroke-width="0.9"/>
<text x="43.2" y="321.32000000000005" font-size="5.9" text-anchor="end" fill="#3c3c3c" stroke="#3c3c3c" stroke-width="0.18" >40</text>
<line x1="46.3" y1="299.58" x2="48.9" y2="299.58" stroke="#2e2e2e" stroke-width="0.9"/>
<text x="43.2" y="301.68" font-size="5.9" text-anchor="end" fill="#3c3c3c" stroke="#3c3c3c" stroke-width="0.18" >60</text>
<line x1="46.3" y1="279.94" x2="48.9" y2="279.94" stroke="#2e2e2e" stroke-width="0.9"/>
<text x="43.2" y="282.04" font-size="5.9" text-anchor="end" fill="#3c3c3c" stroke="#3c3c3c" stroke-width="0.18" >80</text>
<line x1="46.3" y1="260.30" x2="48.9" y2="260.30" stroke="#2e2e2e" stroke-width="0.9"/>
<text x="43.2" y="262.40000000000003" font-size="5.9" text-anchor="end" fill="#3c3c3c" stroke="#3c3c3c" stroke-width="0.18" >100</text>
<text x="24.4" y="304.1" font-size="8.1" text-anchor="middle" fill="#2e2e2e" stroke="#2e2e2e" stroke-width="0.18" transform="rotate(-90 24.4 304.1)" textLength="82.5" lengthAdjust="spacingAndGlyphs">% cells (on total hCD45<tspan font-size="4.5" dy="-2.6">+</tspan><tspan dy="2.6">)</tspan></text>
<rect x="51.95" y="357.80" width="5.5" height="0.70" fill="#1c4a8e"/>
<line x1="54.70" y1="357.80" x2="54.70" y2="357.20" stroke="#1a1a1a" stroke-width="0.8"/>
<line x1="53.00" y1="357.20" x2="56.40" y2="357.20" stroke="#1a1a1a" stroke-width="0.8"/>
<rect x="60.85" y="357.90" width="5.5" height="0.60" fill="#cf0b2b"/>
<line x1="63.60" y1="357.90" x2="63.60" y2="357.30" stroke="#1a1a1a" stroke-width="0.8"/>
<line x1="61.90" y1="357.30" x2="65.30" y2="357.30" stroke="#1a1a1a" stroke-width="0.8"/>
<rect x="69.75" y="357.30" width="5.5" height="1.20" fill="#3bac3e"/>
<line x1="72.50" y1="357.30" x2="72.50" y2="356.50" stroke="#1a1a1a" stroke-width="0.8"/>
<line x1="70.80" y1="356.50" x2="74.20" y2="356.50" stroke="#1a1a1a" stroke-width="0.8"/>
<line x1="63.60" y1="358.5" x2="63.60" y2="361.3" stroke="#2e2e2e" stroke-width="0.9"/>
<text x="63.7" y="370.4" font-size="6.6" text-anchor="middle" fill="#2e2e2e" stroke="#2e2e2e" stroke-width="0.18" textLength="14.1" lengthAdjust="spacingAndGlyphs" >CD3</text>
<rect x="84.61" y="319.10" width="5.5" height="39.40" fill="#1c4a8e"/>
<line x1="87.36" y1="319.10" x2="87.36" y2="311.90" stroke="#1a1a1a" stroke-width="0.8"/>
<line x1="85.66" y1="311.90" x2="89.06" y2="311.90" stroke="#1a1a1a" stroke-width="0.8"/>
<rect x="93.51" y="317.30" width="5.5" height="41.20" fill="#cf0b2b"/>
<line x1="96.26" y1="317.30" x2="96.26" y2="312.30" stroke="#1a1a1a" stroke-width="0.8"/>
<line x1="94.56" y1="312.30" x2="97.96" y2="312.30" stroke="#1a1a1a" stroke-width="0.8"/>
<rect x="102.41" y="306.20" width="5.5" height="52.30" fill="#3bac3e"/>
<line x1="105.16" y1="306.20" x2="105.16" y2="300.30" stroke="#1a1a1a" stroke-width="0.8"/>
<line x1="103.46" y1="300.30" x2="106.86" y2="300.30" stroke="#1a1a1a" stroke-width="0.8"/>
<line x1="96.26" y1="358.5" x2="96.26" y2="361.3" stroke="#2e2e2e" stroke-width="0.9"/>
<text x="96.55" y="370.4" font-size="6.6" text-anchor="middle" fill="#2e2e2e" stroke="#2e2e2e" stroke-width="0.18" textLength="16.6" lengthAdjust="spacingAndGlyphs" >CD19</text>
<rect x="117.27" y="351.20" width="5.5" height="7.30" fill="#1c4a8e"/>
<line x1="120.02" y1="351.20" x2="120.02" y2="349.00" stroke="#1a1a1a" stroke-width="0.8"/>
<line x1="118.32" y1="349.00" x2="121.72" y2="349.00" stroke="#1a1a1a" stroke-width="0.8"/>
<rect x="126.17" y="347.90" width="5.5" height="10.60" fill="#cf0b2b"/>
<line x1="128.92" y1="347.90" x2="128.92" y2="345.50" stroke="#1a1a1a" stroke-width="0.8"/>
<line x1="127.22" y1="345.50" x2="130.62" y2="345.50" stroke="#1a1a1a" stroke-width="0.8"/>
<rect x="135.07" y="353.00" width="5.5" height="5.50" fill="#3bac3e"/>
<line x1="137.82" y1="353.00" x2="137.82" y2="351.50" stroke="#1a1a1a" stroke-width="0.8"/>
<line x1="136.12" y1="351.50" x2="139.52" y2="351.50" stroke="#1a1a1a" stroke-width="0.8"/>
<line x1="128.92" y1="358.5" x2="128.92" y2="361.3" stroke="#2e2e2e" stroke-width="0.9"/>
<text x="128.9" y="370.4" font-size="6.6" text-anchor="middle" fill="#2e2e2e" stroke="#2e2e2e" stroke-width="0.18" textLength="16.7" lengthAdjust="spacingAndGlyphs" >CD14</text>
<rect x="149.93" y="320.70" width="5.5" height="37.80" fill="#1c4a8e"/>
<line x1="152.68" y1="320.70" x2="152.68" y2="318.00" stroke="#1a1a1a" stroke-width="0.8"/>
<line x1="150.98" y1="318.00" x2="154.38" y2="318.00" stroke="#1a1a1a" stroke-width="0.8"/>
<rect x="158.83" y="313.20" width="5.5" height="45.30" fill="#cf0b2b"/>
<line x1="161.58" y1="313.20" x2="161.58" y2="311.00" stroke="#1a1a1a" stroke-width="0.8"/>
<line x1="159.88" y1="311.00" x2="163.28" y2="311.00" stroke="#1a1a1a" stroke-width="0.8"/>
<rect x="167.73" y="343.20" width="5.5" height="15.30" fill="#3bac3e"/>
<line x1="170.48" y1="343.20" x2="170.48" y2="341.90" stroke="#1a1a1a" stroke-width="0.8"/>
<line x1="168.78" y1="341.90" x2="172.18" y2="341.90" stroke="#1a1a1a" stroke-width="0.8"/>
<line x1="161.58" y1="358.5" x2="161.58" y2="361.3" stroke="#2e2e2e" stroke-width="0.9"/>
<text x="161.9" y="370.4" font-size="6.6" text-anchor="middle" fill="#2e2e2e" stroke="#2e2e2e" stroke-width="0.18" textLength="16.7" lengthAdjust="spacingAndGlyphs" >CD15</text>
<rect x="182.59" y="339.10" width="5.5" height="19.40" fill="#1c4a8e"/>
<line x1="185.34" y1="339.10" x2="185.34" y2="336.40" stroke="#1a1a1a" stroke-width="0.8"/>
<line x1="183.64" y1="336.40" x2="187.04" y2="336.40" stroke="#1a1a1a" stroke-width="0.8"/>
<rect x="191.49" y="337.70" width="5.5" height="20.80" fill="#cf0b2b"/>
<line x1="194.24" y1="337.70" x2="194.24" y2="334.50" stroke="#1a1a1a" stroke-width="0.8"/>
<line x1="192.54" y1="334.50" x2="195.94" y2="334.50" stroke="#1a1a1a" stroke-width="0.8"/>
<rect x="200.39" y="352.50" width="5.5" height="6.00" fill="#3bac3e"/>
<line x1="203.14" y1="352.50" x2="203.14" y2="351.00" stroke="#1a1a1a" stroke-width="0.8"/>
<line x1="201.44" y1="351.00" x2="204.84" y2="351.00" stroke="#1a1a1a" stroke-width="0.8"/>
<line x1="194.24" y1="358.5" x2="194.24" y2="361.3" stroke="#2e2e2e" stroke-width="0.9"/>
<text x="194.1" y="370.4" font-size="6.6" text-anchor="middle" fill="#2e2e2e" stroke="#2e2e2e" stroke-width="0.18" textLength="20.1" lengthAdjust="spacingAndGlyphs" >CD11b</text>
<rect x="215.25" y="354.30" width="5.5" height="4.20" fill="#1c4a8e"/>
<line x1="218.00" y1="354.30" x2="218.00" y2="351.20" stroke="#1a1a1a" stroke-width="0.8"/>
<line x1="216.30" y1="351.20" x2="219.70" y2="351.20" stroke="#1a1a1a" stroke-width="0.8"/>
<rect x="224.15" y="356.30" width="5.5" height="2.20" fill="#cf0b2b"/>
<line x1="226.90" y1="356.30" x2="226.90" y2="353.50" stroke="#1a1a1a" stroke-width="0.8"/>
<line x1="225.20" y1="353.50" x2="228.60" y2="353.50" stroke="#1a1a1a" stroke-width="0.8"/>
<rect x="233.05" y="357.40" width="5.5" height="1.10" fill="#3bac3e"/>
<line x1="235.80" y1="357.40" x2="235.80" y2="356.30" stroke="#1a1a1a" stroke-width="0.8"/>
<line x1="234.10" y1="356.30" x2="237.50" y2="356.30" stroke="#1a1a1a" stroke-width="0.8"/>
<line x1="226.90" y1="358.5" x2="226.90" y2="361.3" stroke="#2e2e2e" stroke-width="0.9"/>
<text x="227.5" y="370.4" font-size="6.6" text-anchor="middle" fill="#2e2e2e" stroke="#2e2e2e" stroke-width="0.18" textLength="13.0" lengthAdjust="spacingAndGlyphs" >GPA</text>
<rect x="247.91" y="351.00" width="5.5" height="7.50" fill="#1c4a8e"/>
<line x1="250.66" y1="351.00" x2="250.66" y2="348.30" stroke="#1a1a1a" stroke-width="0.8"/>
<line x1="248.96" y1="348.30" x2="252.36" y2="348.30" stroke="#1a1a1a" stroke-width="0.8"/>
<rect x="256.81" y="350.30" width="5.5" height="8.20" fill="#cf0b2b"/>
<line x1="259.56" y1="350.30" x2="259.56" y2="348.30" stroke="#1a1a1a" stroke-width="0.8"/>
<line x1="257.86" y1="348.30" x2="261.26" y2="348.30" stroke="#1a1a1a" stroke-width="0.8"/>
<rect x="265.71" y="349.60" width="5.5" height="8.90" fill="#3bac3e"/>
<line x1="268.46" y1="349.60" x2="268.46" y2="347.00" stroke="#1a1a1a" stroke-width="0.8"/>
<line x1="266.76" y1="347.00" x2="270.16" y2="347.00" stroke="#1a1a1a" stroke-width="0.8"/>
<line x1="259.56" y1="358.5" x2="259.56" y2="361.3" stroke="#2e2e2e" stroke-width="0.9"/>
<text x="259.62" y="370.4" font-size="6.6" text-anchor="middle" fill="#2e2e2e" stroke="#2e2e2e" stroke-width="0.18" textLength="17.25" lengthAdjust="spacingAndGlyphs" >CD36</text>
<rect x="280.57" y="347.60" width="5.5" height="10.90" fill="#1c4a8e"/>
<line x1="283.32" y1="347.60" x2="283.32" y2="345.20" stroke="#1a1a1a" stroke-width="0.8"/>
<line x1="281.62" y1="345.20" x2="285.02" y2="345.20" stroke="#1a1a1a" stroke-width="0.8"/>
<rect x="289.47" y="345.20" width="5.5" height="13.30" fill="#cf0b2b"/>
<line x1="292.22" y1="345.20" x2="292.22" y2="339.90" stroke="#1a1a1a" stroke-width="0.8"/>
<line x1="290.52" y1="339.90" x2="293.92" y2="339.90" stroke="#1a1a1a" stroke-width="0.8"/>
<rect x="298.37" y="350.00" width="5.5" height="8.50" fill="#3bac3e"/>
<line x1="301.12" y1="350.00" x2="301.12" y2="348.50" stroke="#1a1a1a" stroke-width="0.8"/>
<line x1="299.42" y1="348.50" x2="302.82" y2="348.50" stroke="#1a1a1a" stroke-width="0.8"/>
<line x1="292.22" y1="358.5" x2="292.22" y2="361.3" stroke="#2e2e2e" stroke-width="0.9"/>
<text x="292.25" y="370.4" font-size="6.6" text-anchor="middle" fill="#2e2e2e" stroke="#2e2e2e" stroke-width="0.18" textLength="16.0" lengthAdjust="spacingAndGlyphs" >CD71</text>
<rect x="313.23" y="347.60" width="5.5" height="10.90" fill="#1c4a8e"/>
<line x1="315.98" y1="347.60" x2="315.98" y2="345.00" stroke="#1a1a1a" stroke-width="0.8"/>
<line x1="314.28" y1="345.00" x2="317.68" y2="345.00" stroke="#1a1a1a" stroke-width="0.8"/>
<rect x="322.13" y="345.20" width="5.5" height="13.30" fill="#cf0b2b"/>
<line x1="324.88" y1="345.20" x2="324.88" y2="344.60" stroke="#1a1a1a" stroke-width="0.8"/>
<line x1="323.18" y1="344.60" x2="326.58" y2="344.60" stroke="#1a1a1a" stroke-width="0.8"/>
<rect x="331.03" y="348.00" width="5.5" height="10.50" fill="#3bac3e"/>
<line x1="333.78" y1="348.00" x2="333.78" y2="346.80" stroke="#1a1a1a" stroke-width="0.8"/>
<line x1="332.08" y1="346.80" x2="335.48" y2="346.80" stroke="#1a1a1a" stroke-width="0.8"/>
<line x1="324.88" y1="358.5" x2="324.88" y2="361.3" stroke="#2e2e2e" stroke-width="0.9"/>
<text x="325.0" y="370.4" font-size="6.6" text-anchor="middle" fill="#2e2e2e" stroke="#2e2e2e" stroke-width="0.18" textLength="16.5" lengthAdjust="spacingAndGlyphs" >CD34</text>
<circle cx="53.5" cy="357.6" r="1.15" fill="#dcdcdc" stroke="#6e6e6e" stroke-width="0.55"/>
<circle cx="55.5" cy="357.4" r="1.15" fill="#dcdcdc" stroke="#6e6e6e" stroke-width="0.55"/>
<circle cx="57.2" cy="357.7" r="1.15" fill="#dcdcdc" stroke="#6e6e6e" stroke-width="0.55"/>
<circle cx="62.2" cy="357.9" r="1.15" fill="#dcdcdc" stroke="#6e6e6e" stroke-width="0.55"/>
<circle cx="64.6" cy="357.6" r="1.15" fill="#dcdcdc" stroke="#6e6e6e" stroke-width="0.55"/>
<circle cx="70.5" cy="355.6" r="1.15" fill="#dcdcdc" stroke="#6e6e6e" stroke-width="0.55"/>
<circle cx="72.2" cy="357.2" r="1.15" fill="#dcdcdc" stroke="#6e6e6e" stroke-width="0.55"/>
<circle cx="74.4" cy="357.6" r="1.15" fill="#dcdcdc" stroke="#6e6e6e" stroke-width="0.55"/>
<circle cx="87.5" cy="303.9" r="1.15" fill="#dcdcdc" stroke="#6e6e6e" stroke-width="0.55"/>
<circle cx="87.5" cy="332.6" r="1.15" fill="#dcdcdc" stroke="#6e6e6e" stroke-width="0.55"/>
<circle cx="96.6" cy="306.9" r="1.15" fill="#dcdcdc" stroke="#6e6e6e" stroke-width="0.55"/>
<circle cx="96.6" cy="312.3" r="1.15" fill="#dcdcdc" stroke="#6e6e6e" stroke-width="0.55"/>
<circle cx="94.7" cy="323" r="1.15" fill="#dcdcdc" stroke="#6e6e6e" stroke-width="0.55"/>
<circle cx="98.3" cy="323" r="1.15" fill="#dcdcdc" stroke="#6e6e6e" stroke-width="0.55"/>
<circle cx="105.7" cy="294" r="1.15" fill="#dcdcdc" stroke="#6e6e6e" stroke-width="0.55"/>
<circle cx="105.7" cy="297.9" r="1.15" fill="#dcdcdc" stroke="#6e6e6e" stroke-width="0.55"/>
<circle cx="105.7" cy="311.6" r="1.15" fill="#dcdcdc" stroke="#6e6e6e" stroke-width="0.55"/>
<circle cx="105.7" cy="320.5" r="1.15" fill="#dcdcdc" stroke="#6e6e6e" stroke-width="0.55"/>
<circle cx="120.3" cy="346.1" r="1.15" fill="#dcdcdc" stroke="#6e6e6e" stroke-width="0.55"/>
<circle cx="118.4" cy="349" r="1.15" fill="#dcdcdc" stroke="#6e6e6e" stroke-width="0.55"/>
<circle cx="122" cy="349" r="1.15" fill="#dcdcdc" stroke="#6e6e6e" stroke-width="0.55"/>
<circle cx="118.4" cy="352.2" r="1.15" fill="#dcdcdc" stroke="#6e6e6e" stroke-width="0.55"/>
<circle cx="127.3" cy="344.3" r="1.15" fill="#dcdcdc" stroke="#6e6e6e" stroke-width="0.55"/>
<circle cx="129.1" cy="343.3" r="1.15" fill="#dcdcdc" stroke="#6e6e6e" stroke-width="0.55"/>
<circle cx="131.3" cy="344.7" r="1.15" fill="#dcdcdc" stroke="#6e6e6e" stroke-width="0.55"/>
<circle cx="129.1" cy="353.3" r="1.15" fill="#dcdcdc" stroke="#6e6e6e" stroke-width="0.55"/>
<circle cx="136" cy="351.2" r="1.15" fill="#dcdcdc" stroke="#6e6e6e" stroke-width="0.55"/>
<circle cx="137.7" cy="352.2" r="1.15" fill="#dcdcdc" stroke="#6e6e6e" stroke-width="0.55"/>
<circle cx="140.3" cy="353" r="1.15" fill="#dcdcdc" stroke="#6e6e6e" stroke-width="0.55"/>
<circle cx="151.2" cy="318" r="1.15" fill="#dcdcdc" stroke="#6e6e6e" stroke-width="0.55"/>
<circle cx="153.6" cy="317.6" r="1.15" fill="#dcdcdc" stroke="#6e6e6e" stroke-width="0.55"/>
<circle cx="155" cy="318.4" r="1.15" fill="#dcdcdc" stroke="#6e6e6e" stroke-width="0.55"/>
<circle cx="152.8" cy="327.6" r="1.15" fill="#dcdcdc" stroke="#6e6e6e" stroke-width="0.55"/>
<circle cx="162" cy="309.1" r="1.15" fill="#dcdcdc" stroke="#6e6e6e" stroke-width="0.55"/>
<circle cx="160" cy="312.3" r="1.15" fill="#dcdcdc" stroke="#6e6e6e" stroke-width="0.55"/>
<circle cx="164" cy="312.3" r="1.15" fill="#dcdcdc" stroke="#6e6e6e" stroke-width="0.55"/>
<circle cx="162" cy="317.3" r="1.15" fill="#dcdcdc" stroke="#6e6e6e" stroke-width="0.55"/>
<circle cx="171" cy="337.1" r="1.15" fill="#dcdcdc" stroke="#6e6e6e" stroke-width="0.55"/>
<circle cx="168.8" cy="344.6" r="1.15" fill="#dcdcdc" stroke="#6e6e6e" stroke-width="0.55"/>
<circle cx="173" cy="344.6" r="1.15" fill="#dcdcdc" stroke="#6e6e6e" stroke-width="0.55"/>
<circle cx="171" cy="352.1" r="1.15" fill="#dcdcdc" stroke="#6e6e6e" stroke-width="0.55"/>
<circle cx="183.9" cy="336.4" r="1.15" fill="#dcdcdc" stroke="#6e6e6e" stroke-width="0.55"/>
<circle cx="186.8" cy="336.4" r="1.15" fill="#dcdcdc" stroke="#6e6e6e" stroke-width="0.55"/>
<circle cx="185.5" cy="345" r="1.15" fill="#dcdcdc" stroke="#6e6e6e" stroke-width="0.55"/>
<circle cx="194.7" cy="329.1" r="1.15" fill="#dcdcdc" stroke="#6e6e6e" stroke-width="0.55"/>
<circle cx="194.7" cy="331.9" r="1.15" fill="#dcdcdc" stroke="#6e6e6e" stroke-width="0.55"/>
<circle cx="194.7" cy="334.3" r="1.15" fill="#dcdcdc" stroke="#6e6e6e" stroke-width="0.55"/>
<circle cx="194.7" cy="343.4" r="1.15" fill="#dcdcdc" stroke="#6e6e6e" stroke-width="0.55"/>
<circle cx="194.7" cy="345.8" r="1.15" fill="#dcdcdc" stroke="#6e6e6e" stroke-width="0.55"/>
<circle cx="201.9" cy="351" r="1.15" fill="#dcdcdc" stroke="#6e6e6e" stroke-width="0.55"/>
<circle cx="204.5" cy="351" r="1.15" fill="#dcdcdc" stroke="#6e6e6e" stroke-width="0.55"/>
<circle cx="203" cy="353.5" r="1.15" fill="#dcdcdc" stroke="#6e6e6e" stroke-width="0.55"/>
<circle cx="218.2" cy="348.3" r="1.15" fill="#dcdcdc" stroke="#6e6e6e" stroke-width="0.55"/>
<circle cx="218.2" cy="351.2" r="1.15" fill="#dcdcdc" stroke="#6e6e6e" stroke-width="0.55"/>
<circle cx="224.8" cy="353" r="1.15" fill="#dcdcdc" stroke="#6e6e6e" stroke-width="0.55"/>
<circle cx="227.2" cy="352.5" r="1.15" fill="#dcdcdc" stroke="#6e6e6e" stroke-width="0.55"/>
<circle cx="226.2" cy="354.8" r="1.15" fill="#dcdcdc" stroke="#6e6e6e" stroke-width="0.55"/>
<circle cx="234.8" cy="356.2" r="1.15" fill="#dcdcdc" stroke="#6e6e6e" stroke-width="0.55"/>
<circle cx="237.2" cy="356.2" r="1.15" fill="#dcdcdc" stroke="#6e6e6e" stroke-width="0.55"/>
<circle cx="250.5" cy="344.2" r="1.15" fill="#dcdcdc" stroke="#6e6e6e" stroke-width="0.55"/>
<circle cx="250.5" cy="353" r="1.15" fill="#dcdcdc" stroke="#6e6e6e" stroke-width="0.55"/>
<circle cx="258" cy="348.5" r="1.15" fill="#dcdcdc" stroke="#6e6e6e" stroke-width="0.55"/>
<circle cx="260" cy="348" r="1.15" fill="#dcdcdc" stroke="#6e6e6e" stroke-width="0.55"/>
<circle cx="261.7" cy="349.5" r="1.15" fill="#dcdcdc" stroke="#6e6e6e" stroke-width="0.55"/>
<circle cx="259.5" cy="353" r="1.15" fill="#dcdcdc" stroke="#6e6e6e" stroke-width="0.55"/>
<circle cx="268.3" cy="344.9" r="1.15" fill="#dcdcdc" stroke="#6e6e6e" stroke-width="0.55"/>
<circle cx="266.5" cy="348.5" r="1.15" fill="#dcdcdc" stroke="#6e6e6e" stroke-width="0.55"/>
<circle cx="270" cy="348.5" r="1.15" fill="#dcdcdc" stroke="#6e6e6e" stroke-width="0.55"/>
<circle cx="268.3" cy="352" r="1.15" fill="#dcdcdc" stroke="#6e6e6e" stroke-width="0.55"/>
<circle cx="283.4" cy="340.5" r="1.15" fill="#dcdcdc" stroke="#6e6e6e" stroke-width="0.55"/>
<circle cx="282.5" cy="349.4" r="1.15" fill="#dcdcdc" stroke="#6e6e6e" stroke-width="0.55"/>
<circle cx="284.5" cy="349.4" r="1.15" fill="#dcdcdc" stroke="#6e6e6e" stroke-width="0.55"/>
<circle cx="292.3" cy="329.7" r="1.15" fill="#dcdcdc" stroke="#6e6e6e" stroke-width="0.55"/>
<circle cx="292.3" cy="334.2" r="1.15" fill="#dcdcdc" stroke="#6e6e6e" stroke-width="0.55"/>
<circle cx="290.5" cy="352.4" r="1.15" fill="#dcdcdc" stroke="#6e6e6e" stroke-width="0.55"/>
<circle cx="294" cy="352.4" r="1.15" fill="#dcdcdc" stroke="#6e6e6e" stroke-width="0.55"/>
<circle cx="292.3" cy="357" r="1.15" fill="#dcdcdc" stroke="#6e6e6e" stroke-width="0.55"/>
<circle cx="301.2" cy="344" r="1.15" fill="#dcdcdc" stroke="#6e6e6e" stroke-width="0.55"/>
<circle cx="299.5" cy="351.5" r="1.15" fill="#dcdcdc" stroke="#6e6e6e" stroke-width="0.55"/>
<circle cx="302.5" cy="351.5" r="1.15" fill="#dcdcdc" stroke="#6e6e6e" stroke-width="0.55"/>
<circle cx="316.1" cy="344" r="1.15" fill="#dcdcdc" stroke="#6e6e6e" stroke-width="0.55"/>
<circle cx="316.1" cy="350.5" r="1.15" fill="#dcdcdc" stroke="#6e6e6e" stroke-width="0.55"/>
<circle cx="324.9" cy="338.4" r="1.15" fill="#dcdcdc" stroke="#6e6e6e" stroke-width="0.55"/>
<circle cx="323.5" cy="352" r="1.15" fill="#dcdcdc" stroke="#6e6e6e" stroke-width="0.55"/>
<circle cx="326.5" cy="352" r="1.15" fill="#dcdcdc" stroke="#6e6e6e" stroke-width="0.55"/>
<circle cx="331.5" cy="346.8" r="1.15" fill="#dcdcdc" stroke="#6e6e6e" stroke-width="0.55"/>
<circle cx="335.5" cy="346.8" r="1.15" fill="#dcdcdc" stroke="#6e6e6e" stroke-width="0.55"/>
<circle cx="333.5" cy="348.5" r="1.15" fill="#dcdcdc" stroke="#6e6e6e" stroke-width="0.55"/>
<rect x="232.7" y="266.8" width="5.8" height="5.8" fill="#1c4a8e"/>
<text x="241.4" y="271.8" font-size="6.0" text-anchor="start" fill="#3a3a3a" stroke="#3a3a3a" stroke-width="0.18" textLength="16.1" lengthAdjust="spacingAndGlyphs" >BT-ctr</text>
<rect x="267.3" y="266.8" width="5.8" height="5.8" fill="#cf0b2b"/>
<text x="276.1" y="271.8" font-size="6.0" text-anchor="start" fill="#3a3a3a" stroke="#3a3a3a" stroke-width="0.18" textLength="16.1" lengthAdjust="spacingAndGlyphs" >BT-cor</text>
<rect x="303.1" y="266.8" width="5.8" height="5.8" fill="#3bac3e"/>
<text x="312.6" y="271.8" font-size="6.0" text-anchor="start" fill="#3a3a3a" stroke="#3a3a3a" stroke-width="0.18" textLength="15.4" lengthAdjust="spacingAndGlyphs" >HD-ctr</text>
<line x1="396.6" y1="275.3" x2="396.6" y2="358.8" stroke="#2e2e2e" stroke-width="1.2"/>
<line x1="396.0" y1="358.2" x2="513" y2="358.2" stroke="#2e2e2e" stroke-width="1.2"/>
<line x1="394" y1="358.20" x2="396.6" y2="358.20" stroke="#2e2e2e" stroke-width="0.9"/>
<text x="390.2" y="360.3" font-size="5.9" text-anchor="end" fill="#3c3c3c" stroke="#3c3c3c" stroke-width="0.18" >0</text>
<line x1="394" y1="342.08" x2="396.6" y2="342.08" stroke="#2e2e2e" stroke-width="0.9"/>
<text x="390.2" y="344.18" font-size="5.9" text-anchor="end" fill="#3c3c3c" stroke="#3c3c3c" stroke-width="0.18" >20</text>
<line x1="394" y1="325.96" x2="396.6" y2="325.96" stroke="#2e2e2e" stroke-width="0.9"/>
<text x="390.2" y="328.06000000000006" font-size="5.9" text-anchor="end" fill="#3c3c3c" stroke="#3c3c3c" stroke-width="0.18" >40</text>
<line x1="394" y1="309.84" x2="396.6" y2="309.84" stroke="#2e2e2e" stroke-width="0.9"/>
<text x="390.2" y="311.94000000000005" font-size="5.9" text-anchor="end" fill="#3c3c3c" stroke="#3c3c3c" stroke-width="0.18" >60</text>
<line x1="394" y1="293.72" x2="396.6" y2="293.72" stroke="#2e2e2e" stroke-width="0.9"/>
<text x="390.2" y="295.82000000000005" font-size="5.9" text-anchor="end" fill="#3c3c3c" stroke="#3c3c3c" stroke-width="0.18" >80</text>
<line x1="394" y1="277.60" x2="396.6" y2="277.60" stroke="#2e2e2e" stroke-width="0.9"/>
<text x="390.2" y="279.70000000000005" font-size="5.9" text-anchor="end" fill="#3c3c3c" stroke="#3c3c3c" stroke-width="0.18" >100</text>
<text x="373.7" y="315.7" font-size="7.2" text-anchor="middle" fill="#2e2e2e" stroke="#2e2e2e" stroke-width="0.18" transform="rotate(-90 373.7 315.7)" textLength="64" lengthAdjust="spacingAndGlyphs">Editing efficiency (%)</text>
<line x1="411.2" y1="358.2" x2="411.2" y2="360.7" stroke="#2e2e2e" stroke-width="0.9"/>
<text x="413.9" y="368.6" font-size="6.6" text-anchor="end" fill="#2e2e2e" stroke="#2e2e2e" stroke-width="0.18" transform="rotate(-45 413.9 368.6)" >Input</text>
<line x1="433.0" y1="358.2" x2="433.0" y2="360.7" stroke="#2e2e2e" stroke-width="0.9"/>
<text x="435.7" y="368.6" font-size="6.6" text-anchor="end" fill="#2e2e2e" stroke="#2e2e2e" stroke-width="0.18" transform="rotate(-45 435.7 368.6)" >Blood - 9W</text>
<line x1="455.2" y1="358.2" x2="455.2" y2="360.7" stroke="#2e2e2e" stroke-width="0.9"/>
<text x="457.9" y="368.6" font-size="6.6" text-anchor="end" fill="#2e2e2e" stroke="#2e2e2e" stroke-width="0.18" transform="rotate(-45 457.9 368.6)" >Blood - 16W</text>
<line x1="477.0" y1="358.2" x2="477.0" y2="360.7" stroke="#2e2e2e" stroke-width="0.9"/>
<text x="479.7" y="368.6" font-size="6.6" text-anchor="end" fill="#2e2e2e" stroke="#2e2e2e" stroke-width="0.18" transform="rotate(-45 479.7 368.6)" >Bone marrow - 16W</text>
<line x1="498.8" y1="358.2" x2="498.8" y2="360.7" stroke="#2e2e2e" stroke-width="0.9"/>
<text x="501.5" y="368.6" font-size="6.6" text-anchor="end" fill="#2e2e2e" stroke="#2e2e2e" stroke-width="0.18" transform="rotate(-45 501.5 368.6)" >Spleen - 16W</text>
<line x1="404.2" y1="298.9" x2="416.5" y2="298.9" stroke="#222" stroke-width="0.7"/>
<line x1="403.6" y1="300.5" x2="418.6" y2="300.5" stroke="#222" stroke-width="1.2"/>
<polygon points="403.7,298.9 405.4,295.9 407.1,298.9" fill="#222"/>
<polygon points="415.3,297.3 419.3,297.3 417.3,301.2" fill="#222"/>
<line x1="411.2" y1="300.5" x2="411.2" y2="302.8" stroke="#222" stroke-width="0.8"/>
<line x1="409.4" y1="302.8" x2="413" y2="302.8" stroke="#222" stroke-width="0.8"/>
<rect x="409.5" y="306.2" width="3.4" height="3.3" fill="#721829" stroke="#30040d" stroke-width="0.6"/>
<line x1="448.0" y1="297.3" x2="461.9" y2="297.3" stroke="#333" stroke-width="1.1"/>
<line x1="455" y1="290.7" x2="455" y2="303.5" stroke="#555" stroke-width="0.9"/>
<line x1="451.8" y1="290.7" x2="458.2" y2="290.7" stroke="#555" stroke-width="0.9"/>
<line x1="469.4" y1="299.0" x2="481.5" y2="299.0" stroke="#333" stroke-width="1.1"/>
<line x1="491.5" y1="297.3" x2="505" y2="297.3" stroke="#333" stroke-width="1.1"/>
<line x1="426" y1="297.6" x2="440" y2="297.6" stroke="#333" stroke-width="1.1"/>
<circle cx="427.2" cy="297.8" r="1.75" fill="#721829" stroke="#30040d" stroke-width="0.7"/>
<circle cx="429.8" cy="296.9" r="1.75" fill="#721829" stroke="#30040d" stroke-width="0.7"/>
<circle cx="432.4" cy="296.9" r="1.75" fill="#721829" stroke="#30040d" stroke-width="0.7"/>
<circle cx="435" cy="296.9" r="1.75" fill="#721829" stroke="#30040d" stroke-width="0.7"/>
<circle cx="436.8" cy="297.5" r="1.75" fill="#721829" stroke="#30040d" stroke-width="0.7"/>
<circle cx="439.4" cy="299.7" r="1.75" fill="#721829" stroke="#30040d" stroke-width="0.7"/>
<circle cx="455" cy="279.6" r="1.75" fill="#721829" stroke="#30040d" stroke-width="0.7"/>
<circle cx="455" cy="284.2" r="1.75" fill="#721829" stroke="#30040d" stroke-width="0.7"/>
<circle cx="451.8" cy="304.8" r="1.75" fill="#721829" stroke="#30040d" stroke-width="0.7"/>
<circle cx="458" cy="304.8" r="1.75" fill="#721829" stroke="#30040d" stroke-width="0.7"/>
<circle cx="455" cy="313.1" r="1.75" fill="#721829" stroke="#30040d" stroke-width="0.7"/>
<circle cx="471.2" cy="295.3" r="1.75" fill="#721829" stroke="#30040d" stroke-width="0.7"/>
<circle cx="476.7" cy="297.6" r="1.75" fill="#721829" stroke="#30040d" stroke-width="0.7"/>
<circle cx="482.2" cy="296.9" r="1.75" fill="#721829" stroke="#30040d" stroke-width="0.7"/>
<circle cx="473.9" cy="303.6" r="1.75" fill="#721829" stroke="#30040d" stroke-width="0.7"/>
<circle cx="479.5" cy="301.8" r="1.75" fill="#721829" stroke="#30040d" stroke-width="0.7"/>
<circle cx="477.1" cy="299.7" r="1.75" fill="#721829" stroke="#30040d" stroke-width="0.7"/>
<circle cx="495.4" cy="296.9" r="1.75" fill="#721829" stroke="#30040d" stroke-width="0.7"/>
<circle cx="498.2" cy="298.0" r="1.75" fill="#721829" stroke="#30040d" stroke-width="0.7"/>
<circle cx="500.9" cy="297.6" r="1.75" fill="#721829" stroke="#30040d" stroke-width="0.7"/>
<circle cx="504" cy="296.2" r="1.75" fill="#721829" stroke="#30040d" stroke-width="0.7"/>
<circle cx="495.4" cy="299.7" r="1.75" fill="#721829" stroke="#30040d" stroke-width="0.7"/>
<rect x="0.5" y="0.5" width="519" height="417" fill="none" stroke="#2a2a2a" stroke-width="1.2"/>
</svg>
</body></html>
